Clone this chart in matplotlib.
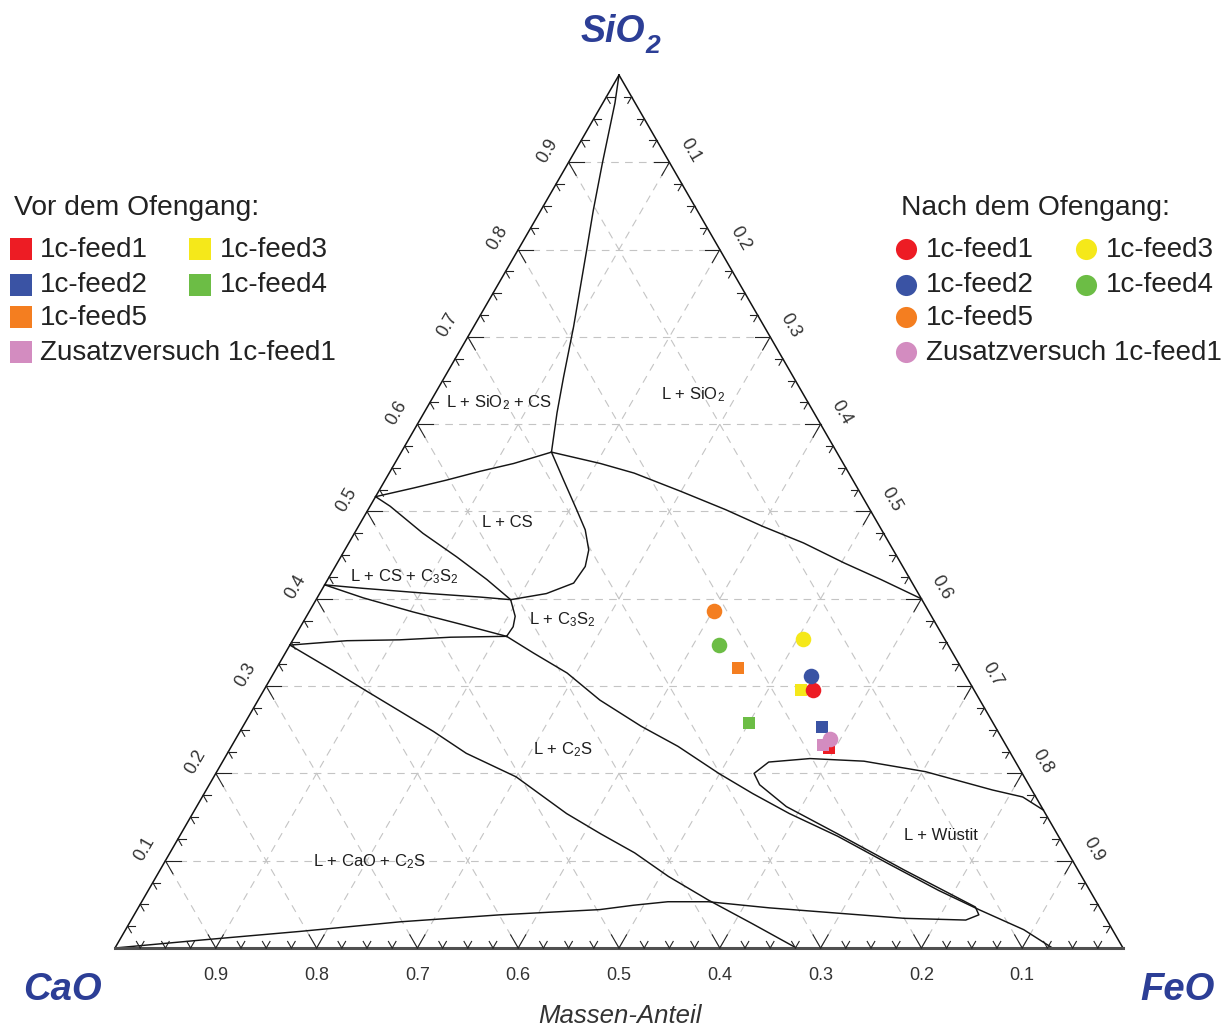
import numpy as np
import matplotlib
matplotlib.use("Agg")
import matplotlib.pyplot as plt

plt.rcParams['font.family'] = ['Liberation Sans', 'DejaVu Sans']
plt.rcParams['mathtext.fontset'] = 'custom'
plt.rcParams['mathtext.rm'] = 'Liberation Sans'
plt.rcParams['mathtext.it'] = 'Liberation Sans:italic'
plt.rcParams['mathtext.bf'] = 'Liberation Sans:bold'
plt.rcParams['lines.scale_dashes'] = False

# ---------------------------------------------------------------- data
series_names = ["1c-feed1", "1c-feed2", "1c-feed3", "1c-feed4", "1c-feed5",
                "Zusatzversuch 1c-feed1"]
series_colors = ["#ed1c24", "#3a53a4", "#f5e81a", "#6cbd45", "#f47e20", "#d38cc0"]

# slag compositions before the furnace run (mass fractions)
before_CaO = [0.177, 0.172, 0.172, 0.242, 0.221, 0.181]
before_FeO = [0.594, 0.575, 0.533, 0.500, 0.458, 0.586]
before_SiO2 = [0.229, 0.253, 0.295, 0.258, 0.321, 0.233]

# slag compositions after the furnace run (mass fractions)
after_CaO = [0.160, 0.154, 0.140, 0.227, 0.213, 0.171]
after_FeO = [0.545, 0.534, 0.506, 0.426, 0.401, 0.590]
after_SiO2 = [0.295, 0.312, 0.354, 0.347, 0.386, 0.239]

# phase boundaries, as (FeO, SiO2) pairs
bnd_silica = [(0.000, 1.000), (0.012, 0.968), (0.034, 0.899), (0.052, 0.845),
              (0.068, 0.800), (0.099, 0.712), (0.118, 0.654), (0.132, 0.613),
              (0.149, 0.568)]
bnd_cs_upper = [(0.000, 0.517), (0.033, 0.527), (0.061, 0.536), (0.089, 0.546),
                (0.118, 0.555), (0.149, 0.568)]
bnd_silica_liq = [(0.149, 0.568), (0.204, 0.555), (0.243, 0.544), (0.300, 0.523),
                  (0.355, 0.502), (0.401, 0.483), (0.451, 0.464), (0.503, 0.441),
                  (0.549, 0.422), (0.600, 0.400)]
bnd_cs_bulge = [(0.149, 0.568), (0.177, 0.536), (0.207, 0.502), (0.227, 0.479),
                (0.242, 0.456), (0.248, 0.437), (0.246, 0.418), (0.225, 0.406),
                (0.193, 0.399)]
bnd_cs_lower = [(0.000, 0.517), (0.020, 0.506), (0.068, 0.475), (0.115, 0.448),
                (0.158, 0.422), (0.193, 0.399)]
bnd_c3s2_upper = [(0.000, 0.416), (0.040, 0.412), (0.109, 0.406), (0.161, 0.402),
                  (0.193, 0.399)]
bnd_c3s2_bulge = [(0.193, 0.399), (0.207, 0.380), (0.211, 0.368), (0.210, 0.357)]
bnd_c3s2_mid = [(0.000, 0.416), (0.046, 0.401), (0.103, 0.385), (0.161, 0.370),
                (0.210, 0.357)]
bnd_c3s2_lower = [(0.000, 0.347), (0.054, 0.352), (0.106, 0.353), (0.155, 0.356),
                  (0.210, 0.357)]
bnd_c2s_upper = [(0.210, 0.357), (0.246, 0.338), (0.291, 0.315), (0.339, 0.284),
                 (0.395, 0.254), (0.443, 0.231), (0.499, 0.200), (0.544, 0.177),
                 (0.592, 0.154), (0.653, 0.128), (0.718, 0.097), (0.784, 0.066),
                 (0.835, 0.044), (0.891, 0.021), (0.930, 0.000)]
bnd_c2s_lower = [(0.000, 0.347), (0.057, 0.318), (0.103, 0.294), (0.192, 0.248),
                 (0.237, 0.223), (0.300, 0.196), (0.371, 0.154), (0.416, 0.131),
                 (0.461, 0.109), (0.508, 0.082), (0.561, 0.055), (0.618, 0.028),
                 (0.676, 0.000)]
bnd_wuestit = [(0.842, 0.158), (0.814, 0.173), (0.780, 0.181), (0.703, 0.202),
               (0.636, 0.214), (0.581, 0.217), (0.542, 0.213), (0.534, 0.200),
               (0.546, 0.187), (0.585, 0.162), (0.651, 0.131), (0.739, 0.089),
               (0.804, 0.059), (0.830, 0.047), (0.838, 0.038), (0.828, 0.032),
               (0.766, 0.034), (0.696, 0.040), (0.626, 0.046), (0.562, 0.053),
               (0.522, 0.053), (0.490, 0.049), (0.459, 0.044), (0.363, 0.038),
               (0.268, 0.030), (0.174, 0.019), (0.080, 0.009), (0.000, 0.000)]
boundaries = [bnd_silica, bnd_cs_upper, bnd_silica_liq, bnd_cs_bulge, bnd_cs_lower,
              bnd_c3s2_upper, bnd_c3s2_bulge, bnd_c3s2_mid, bnd_c3s2_lower,
              bnd_c2s_upper, bnd_c2s_lower, bnd_wuestit]

tick_values = [0.1, 0.2, 0.3, 0.4, 0.5, 0.6, 0.7, 0.8, 0.9]
bottom_labels = ["0.9", "0.8", "0.7", "0.6", "0.5", "0.4", "0.3", "0.2", "0.1"]
left_labels = ["0.1", "0.2", "0.3", "0.4", "0.5", "0.6", "0.7", "0.8", "0.9"]
right_labels = ["0.1", "0.2", "0.3", "0.4", "0.5", "0.6", "0.7", "0.8", "0.9"]

region_labels = ["L + SiO$_2$ + CS", "L + SiO$_2$", "L + CS", "L + CS + C$_3$S$_2$",
                 "L + C$_3$S$_2$", "L + C$_2$S", "L + CaO + C$_2$S", "L + Wüstit"]

# ---------------------------------------------------------------- helpers
S3 = np.sqrt(3) / 2


def to_xy(feo, sio2):
    feo = np.asarray(feo, float)
    sio2 = np.asarray(sio2, float)
    return feo + sio2 / 2, sio2 * S3


W, H = 1231, 1028
fig = plt.figure(figsize=(W / 100, H / 100), dpi=100)
ax = fig.add_axes([115 / W, (H - 948) / H, 1008 / W, 873 / H])
ax.set_xlim(0, 1)
ax.set_ylim(0, S3)
ax.axis('off')

# page overlay for free text, laid out in pixels
lay = fig.add_axes([0, 0, 1, 1], zorder=3)
lay.set_xlim(0, W)
lay.set_ylim(H, 0)
lay.axis('off')
lay.patch.set_visible(False)

# ---------------------------------------------------------------- grid
grid_kw = dict(color="#c4c4c4", lw=0.8, dashes=(5.5, 4.5), zorder=1)
for v in tick_values:
    # constant SiO2
    ax.plot(*to_xy([0, 1 - v], [v, v]), **grid_kw)
    # constant FeO
    ax.plot(*to_xy([v, v], [0, 1 - v]), **grid_kw)
    # constant CaO
    ax.plot(*to_xy([1 - v, 0], [0, 1 - v]), **grid_kw)

# ---------------------------------------------------------------- frame
ax.plot(*to_xy([0, 0], [0, 1]), color="#111111", lw=1.1, clip_on=False, zorder=4)
ax.plot(*to_xy([1, 0], [0, 1]), color="#111111", lw=1.1, clip_on=False, zorder=4)
ax.plot(*to_xy([0, 1], [0, 0]), color="#505050", lw=2.2, clip_on=False, zorder=4)

# arrow-like ticks: two arms along the inner grid directions
tick_pos = np.arange(1, 40) * 0.025
dirs_bottom = [(0.5, S3), (-0.5, S3)]
dirs_left = [(1.0, 0.0), (0.5, -S3)]
dirs_right = [(-1.0, 0.0), (-0.5, -S3)]
for t in tick_pos:
    major = abs(t * 10 - round(t * 10)) < 1e-6
    L = 0.0150 if major else 0.0075
    for (fe, si), dirs in (((t, 0.0), dirs_bottom), ((0.0, t), dirs_left),
                           ((t, 1 - t), dirs_right)):
        px, py = to_xy(fe, si)
        for dx, dy in dirs:
            ax.plot([px, px + L * dx], [py, py + L * dy], color="#222222",
                    lw=0.8, clip_on=False, zorder=4)

# tick labels
lab_kw = dict(fontsize=13, color="#333333", ha="center", va="center",
              textcoords="offset pixels", annotation_clip=False)
for v, lab in zip(tick_values, bottom_labels):
    ax.annotate(lab, xy=to_xy(v, 0), xytext=(0, -27), **lab_kw)
for v, lab in zip(tick_values, left_labels):
    ax.annotate(lab, xy=to_xy(0, v), xytext=(-20.5, 11.5), rotation=60, **lab_kw)
for v, lab in zip(tick_values, right_labels):
    ax.annotate(lab, xy=to_xy(v, 1 - v), xytext=(20.5, 11.5), rotation=-60, **lab_kw)

# ---------------------------------------------------------------- boundaries
for b in boundaries:
    fe, si = zip(*b)
    ax.plot(*to_xy(fe, si), color="#151515", lw=1.05, zorder=3,
            solid_joinstyle="round", clip_on=False)

# ---------------------------------------------------------------- samples
for fe, si, c in zip(before_FeO, before_SiO2, series_colors):
    ax.plot(*to_xy(fe, si), ls="none", marker="s", ms=9.1, mew=0, color=c, zorder=5)
for fe, si, c in zip(after_FeO, after_SiO2, series_colors):
    ax.plot(*to_xy(fe, si), ls="none", marker="o", ms=11.2, mew=0, color=c, zorder=6)

# ---------------------------------------------------------------- region names
region_pos = [(499, 407), (693, 399), (507.5, 527), (404, 581), (562.5, 624),
              (563, 754), (369, 866), (941, 840)]
for (px, py), txt in zip(region_pos, region_labels):
    lay.text(px, py, txt, fontsize=12, color="#1e1e1e", ha="center", va="baseline")

# ---------------------------------------------------------------- corner names
corner_kw = dict(color="#2c3e96", fontweight="bold", fontstyle="italic", va="baseline")
lay.text(581, 42, "SiO", fontsize=27, ha="left", **corner_kw)
lay.text(645, 53, "2", fontsize=19, ha="left", **corner_kw)
lay.text(62, 1000, "CaO", fontsize=27.5, ha="center", **corner_kw)
lay.text(1178, 1000, "FeO", fontsize=27.5, ha="center", **corner_kw)
lay.text(620, 1023, "Massen-Anteil", fontsize=18.5, fontstyle="italic",
         color="#333333", ha="center", va="baseline")

# ---------------------------------------------------------------- legends
row_y = [249, 284.5, 317, 352]
slots = [(0, 0), (0, 1), (1, 0), (1, 1), (0, 2), (0, 3)]  # (column, row) per series
leg_kw = dict(fontsize=20, color="#222222", ha="left", va="center")

lay.text(14, 215, "Vor dem Ofengang:", fontsize=20.3, color="#222222",
         ha="left", va="baseline")
sq_x = [20.5, 200]
tx_x = [40, 220]
for (col, row), name, c in zip(slots, series_names, series_colors):
    lay.plot([sq_x[col]], [row_y[row]], ls="none", marker="s", ms=15.6, mew=0, color=c)
    lay.text(tx_x[col], row_y[row] + 1, name, **leg_kw)

lay.text(901, 215, "Nach dem Ofengang:", fontsize=20.3, color="#222222",
         ha="left", va="baseline")
ci_x = [905.5, 1086]
tc_x = [926, 1106]
for (col, row), name, c in zip(slots, series_names, series_colors):
    lay.plot([ci_x[col]], [row_y[row]], ls="none", marker="o", ms=15.2, mew=0, color=c)
    lay.text(tc_x[col], row_y[row] + 1, name, **leg_kw)

fig.savefig("out.png", dpi=100)
